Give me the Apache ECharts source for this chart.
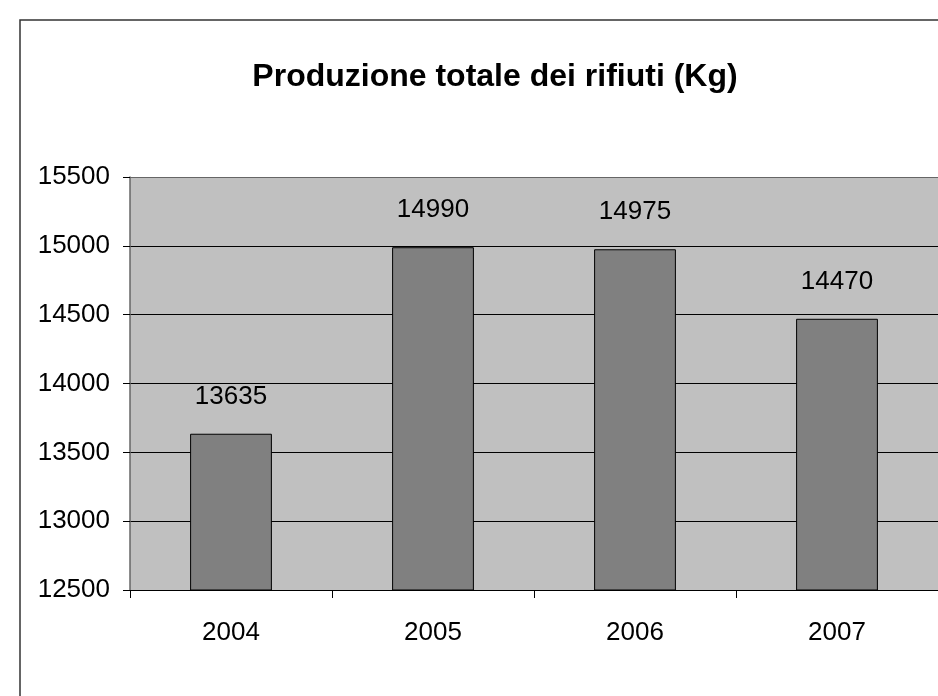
<!DOCTYPE html>
<html>
<head>
<meta charset="utf-8">
<script src="https://cdn.jsdelivr.net/npm/echarts@6/dist/echarts.min.js"></script>
<style>
  html, body { margin: 0; padding: 0; background: #fff; }
  #chart { width: 938px; height: 696px; }
</style>
</head>
<body>
<div id="chart"></div>
<script>
// dati
const years = ['2004', '2005', '2006', '2007']
const totals = [13635, 14990, 14975, 14470]
const yTicks = { min: 12500, max: 15500, step: 500 }

const font = "'Liberation Sans', Arial, sans-serif"

let myChart = echarts.init(document.getElementById('chart'))

let option = {
  backgroundColor: '#fff',
  animation: false,
  title: {
    text: 'Produzione totale dei rifiuti (Kg)',
    left: 490,
    textAlign: 'center',
    top: 56,
    textStyle: {
      fontFamily: font,
      fontSize: 32,
      fontWeight: 'bold',
      color: '#000'
    }
  },
  graphic: [{
    type: 'rect',
    z: -1,
    shape: { x: 20, y: 20, width: 1200, height: 1000 },
    style: { fill: null, stroke: '#333', lineWidth: 1.5 }
  }],
  grid: {
    left: 130,
    right: 0,
    top: 177,
    bottom: 106,
    show: true,
    backgroundColor: '#c0c0c0',
    borderWidth: 0
  },
  xAxis: {
    type: 'category',
    data: years,
    axisLine: { lineStyle: { color: '#000', width: 1 } },
    axisTick: { show: true, length: 8, lineStyle: { color: '#000' } },
    axisLabel: {
      fontFamily: font,
      fontSize: 26,
      color: '#000',
      margin: 30
    }
  },
  yAxis: {
    type: 'value',
    min: yTicks.min,
    max: yTicks.max,
    interval: yTicks.step,
    axisLine: { show: true, lineStyle: { color: '#666', width: 1.5 } },
    axisTick: { show: true, length: 7, lineStyle: { color: '#000' } },
    splitLine: {
      show: true,
      lineStyle: {
        color: ['#000', '#000', '#000', '#000', '#000', '#000', '#666'],
        width: 1
      }
    },
    axisLabel: {
      fontFamily: font,
      fontSize: 26,
      color: '#000',
      margin: 20,
      formatter: function (v) { return String(v) }
    }
  },
  series: [{
    type: 'bar',
    data: totals,
    barWidth: '40.5%',
    itemStyle: {
      color: '#808080',
      borderColor: '#000',
      borderWidth: 1
    },
    label: {
      show: true,
      position: 'top',
      distance: 24,
      fontFamily: font,
      fontSize: 26,
      color: '#000'
    }
  }]
}

myChart.setOption(option)
</script>
</body>
</html>
